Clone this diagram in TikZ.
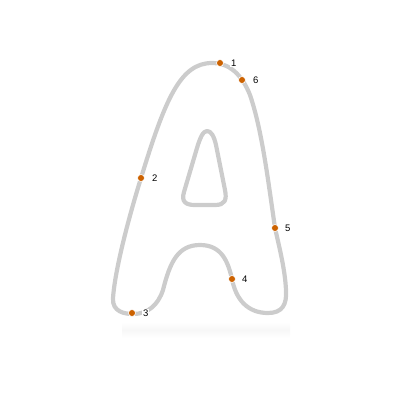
\documentclass[tikz,border=0pt]{standalone}
\usepackage{fontspec}
\setmainfont{Liberation Sans}
\definecolor{outl}{RGB}{204,204,204}
\definecolor{pt}{RGB}{204,98,0}
\begin{document}
\begin{tikzpicture}[x=1pt,y=-1pt,
  outline/.style={draw=outl,line width=4.2pt,line join=round},
  ptmark/.style={circle,fill=pt,draw=white,line width=0.6pt,inner sep=0pt,minimum size=7pt},
  lbl/.style={font=\fontsize{9.5}{10}\selectfont,anchor=west,inner sep=0.8pt,fill=white}]
\useasboundingbox (0,0) rectangle (400,400);
% faint shadow
\shade[top color=white,bottom color=white,middle color=black!3,draw=none] (122,322) rectangle (290,338);
% outer
\draw[outline] (212,63) .. controls (180,63) and (165,100) .. (141,178)
  .. controls (128,220) and (115,270) .. (113,298)
  .. controls (112,312) and (125,314) .. (133,314)
  .. controls (148,314) and (158,305) .. (163,290)
  .. controls (170,262) and (178,245) .. (200,245)
  .. controls (222,245) and (228,262) .. (232,279)
  .. controls (236,300) and (248,313) .. (268,313)
  .. controls (282,313) and (287,305) .. (286,290)
  .. controls (285,270) and (280,250) .. (275,228)
  .. controls (268,180) and (262,130) .. (250,95)
  .. controls (242,75) and (230,63) .. (212,63) -- cycle;
% inner
\draw[outline] (207,131) .. controls (203,131) and (200,138) .. (197,148)
  -- (184,192) .. controls (181,202) and (186,205) .. (195,205)
  -- (215,205) .. controls (225,205) and (227,200) .. (225,190)
  -- (216,145) .. controls (214,136) and (211,131) .. (207,131) -- cycle;
% points
\node[ptmark] (p1) at (220,63) {};
\node[ptmark] (p2) at (141,178) {};
\node[ptmark] (p3) at (132,313) {};
\node[ptmark] (p4) at (232,279) {};
\node[ptmark] (p5) at (275,228) {};
\node[ptmark] (p6) at (242,80) {};
\node[lbl] (l1) at (230,63) {1};
\node[lbl] (l2) at (151,178) {2};
\node[lbl] (l3) at (142,313) {3};
\node[lbl] (l4) at (241,279) {4};
\node[lbl] (l5) at (284,228) {5};
\node[lbl] (l6) at (252,80) {6};
\end{tikzpicture}
\end{document}
